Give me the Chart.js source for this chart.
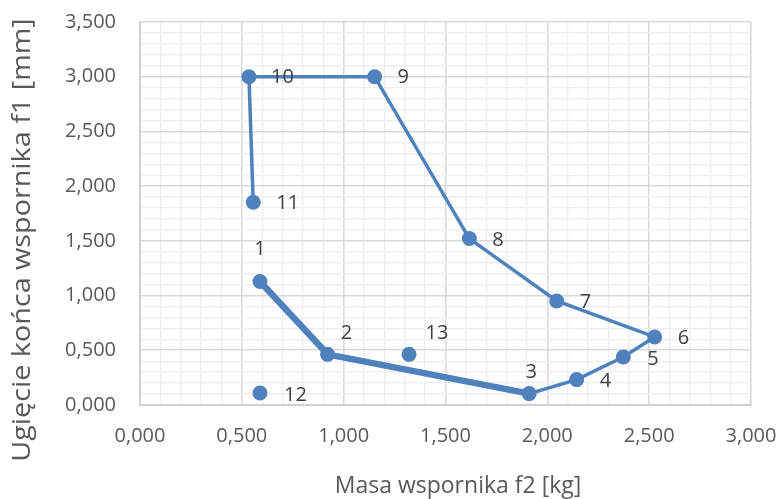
<!DOCTYPE html>
<html>
<head>
<meta charset="utf-8">
<script src="https://cdn.jsdelivr.net/npm/chart.js@4"></script>
<style>
  html, body { margin: 0; padding: 0; background: #fff; }
  #wrap { width: 781px; height: 499px; }
</style>
</head>
<body>
<div id="wrap"><canvas id="myScatter"></canvas></div>
<script>
// point numbers and their values
const pointNames = ['1', '2', '3', '4', '5', '6', '7', '8', '9', '10', '11', '12', '13'];
const massKg = [0.589, 0.921, 1.911, 2.144, 2.373, 2.527, 2.046, 1.617, 1.152, 0.535, 0.556, 0.589, 1.321];
const deflectionMm = [1.128, 0.463, 0.104, 0.232, 0.439, 0.622, 0.951, 1.521, 3.000, 3.000, 1.853, 0.110, 0.463];

// which points are joined by the lines
const pathOrder = [0, 1, 2, 3, 4, 5, 6, 7, 8, 9, 10];
const frontOrder = [0, 1, 2];

const xTitle = 'Masa wspornika f2 [kg]';
const yTitle = 'Ugięcie końca wspornika f1 [mm]';

// label placement next to each point: [dx, dy, align]
const labelPlace = [
    [0, -32, 'center'], [19, -21, 'center'], [2, -21, 'center'],
    [23, 2, 'left'], [24, 2, 'left'], [23, 1, 'left'], [23, 1, 'left'],
    [23, 2, 'left'], [23, 1, 'left'], [22, 1, 'left'], [23, 1, 'left'],
    [24, 2, 'left'], [28, -21, 'center']
];

const blue = '#4f81bd';
const font = "'Open Sans', sans-serif";

function pts(idx) {
    return idx.map(i => ({x: massKg[i], y: deflectionMm[i]}));
}

function fmt(v) {
    return v.toFixed(3).replace('.', ',');
}

function isMajor(v) {
    return Math.round(v * 10) % 5 === 0;
}

// number next to every point
const pointLabels = {
    id: 'pointLabels',
    afterDatasetsDraw(chart) {
        const c = chart.ctx;
        const meta = chart.getDatasetMeta(0);
        c.save();
        c.font = '20px ' + font;
        c.fillStyle = '#404040';
        c.textBaseline = 'middle';
        meta.data.forEach((el, i) => {
            const p = labelPlace[i];
            c.textAlign = p[2];
            c.fillText(pointNames[i], el.x + p[0], el.y + p[1]);
        });
        c.restore();
    }
};

// axis titles, placed relative to the whole canvas
const axisTitles = {
    id: 'axisTitles',
    afterDraw(chart) {
        const c = chart.ctx;
        c.save();
        c.fillStyle = '#595959';
        c.textAlign = 'center';
        c.textBaseline = 'middle';
        c.font = '23px ' + font;
        c.fillText(xTitle, 458, 486);
        c.translate(22.5, 240);
        c.rotate(-Math.PI / 2);
        c.scale(1.15, 1);
        c.font = '25px ' + font;
        c.fillText(yTitle, 0, 0);
        c.restore();
    }
};

const gridOpts = {
    color: ctx => isMajor(ctx.tick.value) ? '#d9d9d9' : '#efefef',
    lineWidth: ctx => isMajor(ctx.tick.value) ? 1.6 : 1.4,
    drawTicks: false
};

new Chart(document.getElementById('myScatter'), {
    type: 'scatter',
    data: {
        datasets: [
            {
                label: 'points',
                data: pts(pointNames.map((n, i) => i)),
                showLine: false,
                pointRadius: 7.5,
                pointHoverRadius: 7.5,
                backgroundColor: blue,
                borderColor: blue,
                borderWidth: 0
            },
            {
                label: 'path',
                data: pts(pathOrder),
                showLine: true,
                borderColor: blue,
                borderWidth: 3.5,
                pointRadius: 0
            },
            {
                label: 'front',
                data: pts(frontOrder),
                showLine: true,
                borderColor: blue,
                borderWidth: 6.5,
                pointRadius: 0
            }
        ]
    },
    options: {
        responsive: true,
        maintainAspectRatio: false,
        animation: false,
        layout: { padding: { top: 22, right: 30, left: 0, bottom: 0 } },
        plugins: {
            legend: { display: false },
            tooltip: { enabled: false }
        },
        scales: {
            x: {
                type: 'linear',
                min: 0,
                max: 3,
                afterFit: s => {
                    s.height = 94;
                    s.paddingLeft = 0;
                    s.paddingRight = 0;
                },
                ticks: {
                    stepSize: 0.1,
                    autoSkip: false,
                    maxRotation: 0,
                    padding: 19,
                    color: '#595959',
                    font: { family: font, size: 20 },
                    callback: v => isMajor(v) ? fmt(v) : ''
                },
                grid: gridOpts,
                border: { color: '#d0d0d0', width: 2 }
            },
            y: {
                type: 'linear',
                min: 0,
                max: 3.5,
                afterFit: s => {
                    s.width = 140;
                    s.paddingTop = 0;
                    s.paddingBottom = 0;
                },
                ticks: {
                    stepSize: 0.1,
                    autoSkip: false,
                    padding: 24,
                    color: '#595959',
                    font: { family: font, size: 20 },
                    callback: v => isMajor(v) ? fmt(v) : ''
                },
                grid: gridOpts,
                border: { color: '#d0d0d0', width: 2 }
            }
        }
    },
    plugins: [pointLabels, axisTitles]
});
</script>
</body>
</html>
